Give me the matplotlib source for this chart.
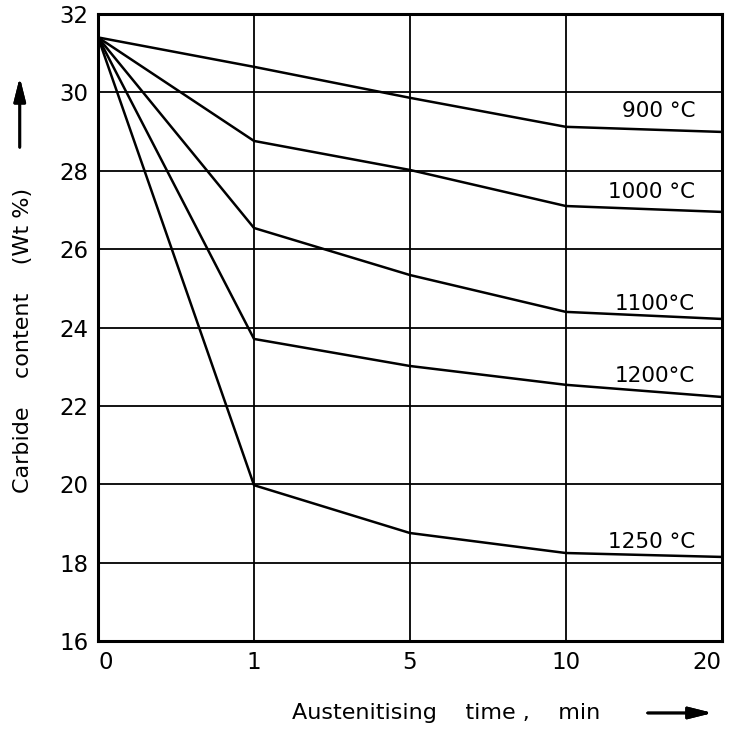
import numpy as np
import matplotlib.pyplot as plt

# x positions are equally spaced categories
times = ["0", "1", "5", "10", "20"]
temps = ["900 °C", "1000 °C", "1100°C", "1200°C", "1250 °C"]
c900 = [31.4, 30.65, 29.86, 29.12, 28.99]
c1000 = [31.4, 28.76, 28.02, 27.10, 26.95]
c1100 = [31.4, 26.54, 25.34, 24.40, 24.22]
c1200 = [31.4, 23.71, 23.02, 22.54, 22.23]
c1250 = [31.4, 19.98, 18.76, 18.25, 18.15]
label_y = [29.37, 27.31, 24.45, 22.61, 18.38]

series = [c900, c1000, c1100, c1200, c1250]

fig = plt.figure(figsize=(7.32, 7.32), dpi=100)
ax = fig.add_axes([0.134, 0.124, 0.852, 0.857])

x = np.arange(len(times))
for vals in series:
    ax.plot(x, vals, color="black", lw=1.8, solid_joinstyle="miter")

for name, ly in zip(temps, label_y):
    ax.text(3.83, ly, name, ha="right", va="baseline", fontsize=15.5)

ax.set_xlim(0, 4)
ax.set_ylim(16, 32)
ax.set_xticks(x)
ax.set_xticklabels(times)
ax.set_yticks(np.arange(16, 33, 2))
ax.grid(True, color="black", lw=1.3)
ax.tick_params(length=0, labelsize=16.5, pad=7)
xl = ax.get_xticklabels()
xl[0].set_ha("left")
xl[-1].set_ha("right")
for sp in ax.spines.values():
    sp.set_linewidth(2.2)

ax.set_ylabel("Carbide    content    (Wt %)", fontsize=16)
ax.yaxis.set_label_coords(-0.105, 0.48)
fig.text(0.82, 0.026, "Austenitising    time ,    min", ha="right",
         va="center", fontsize=16)
# direction arrows
fig.add_artist(plt.annotate("", xy=(0.977, 0.026), xytext=(0.881, 0.026),
                            xycoords="figure fraction",
                            arrowprops=dict(arrowstyle="-|>,head_length=0.8,head_width=0.2",
                                            color="black", lw=2, mutation_scale=18)))
fig.add_artist(plt.annotate("", xy=(0.027, 0.898), xytext=(0.027, 0.795),
                            xycoords="figure fraction",
                            arrowprops=dict(arrowstyle="-|>,head_length=0.8,head_width=0.2",
                                            color="black", lw=2, mutation_scale=18)))

fig.savefig("out.png", dpi=100)
